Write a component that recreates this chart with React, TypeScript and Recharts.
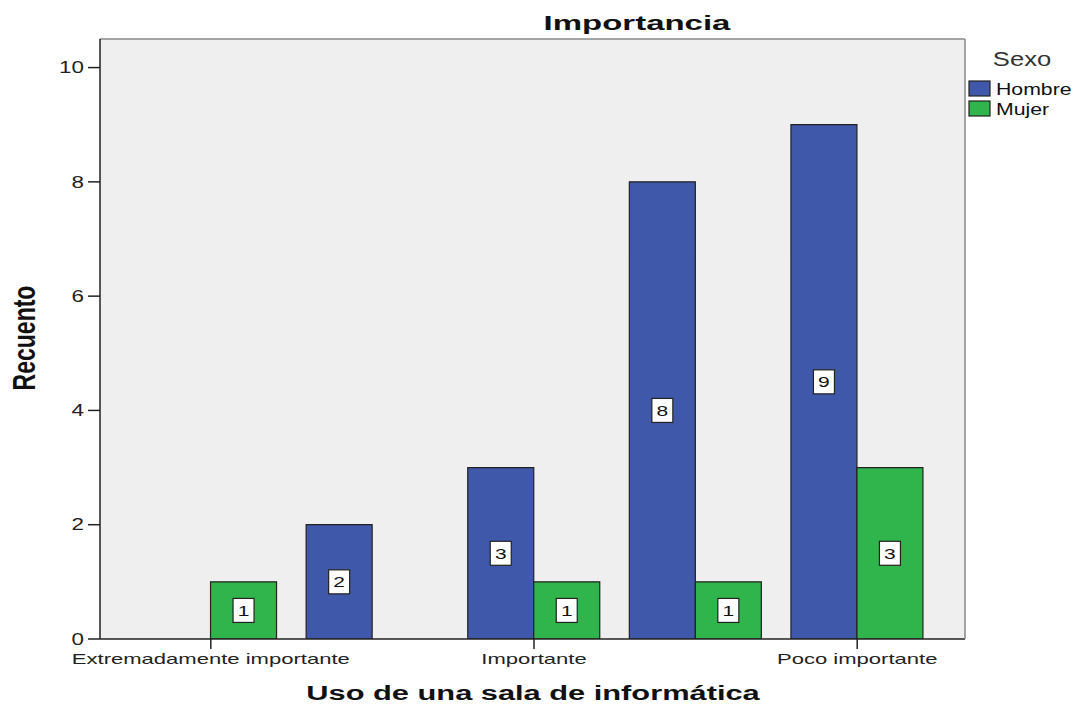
import { BarChart, Bar, XAxis, YAxis, CartesianGrid, LabelList } from "recharts";

const categories = [
  "Extremadamente importante",
  "Muy importante",
  "Importante",
  "Moderadamente importante",
  "Poco importante",
];
const hombre = [0, 2, 3, 8, 9];
const mujer = [1, 0, 1, 1, 3];
const yTicks = [0, 2, 4, 6, 8, 10];

const series = [
  { key: "Hombre", color: "#3f58aa" },
  { key: "Mujer", color: "#2fb54b" },
];

const data = categories.map((cat, i) => ({ cat, Hombre: hombre[i], Mujer: mujer[i] }));

const FONT = "'Liberation Sans', Arial, sans-serif";
const W = 1075;
const H = 705;

const XTick = (props: any) => {
  const { x, y, payload } = props;
  return (
    <g transform={`translate(${x},${y})`}>
      <text transform="scale(1.47,1)" textAnchor="middle" dy="0.71em" fontSize={15} fontFamily={FONT} fill="#222">
        {payload.value}
      </text>
    </g>
  );
};

const YTick = (props: any) => {
  const { x, y, payload } = props;
  return (
    <g transform={`translate(${x},${y})`}>
      <text transform="scale(1.4,1)" textAnchor="end" dy="0.36em" fontSize={16} fontFamily={FONT} fill="#222">
        {payload.value}
      </text>
    </g>
  );
};

const BoxLabel = (props: any) => {
  const vb = props.viewBox ?? props;
  const x = vb.x ?? props.x;
  const y = vb.y ?? props.y;
  const width = vb.width ?? props.width;
  const height = vb.height ?? props.height;
  const { value } = props;
  if (!value) return null;
  const cx = x + width / 2;
  const cy = y + height / 2;
  return (
    <g>
      <rect x={cx - 10.5} y={cy - 12} width={21} height={24} fill="#fff" stroke="#222" strokeWidth={1.2} />
      <text transform={`translate(${cx},${cy}) scale(1.4,1)`} textAnchor="middle" dy="0.36em" fontSize={15} fontFamily={FONT} fill="#111">
        {value}
      </text>
    </g>
  );
};

export default function App() {
  return (
    <div style={{ position: "absolute", left: 0, top: 0, width: W, height: H, background: "#fff" }}>
      <BarChart
        width={W}
        height={H}
        data={data}
        margin={{ top: 38, right: 109, bottom: 26, left: 40 }}
        barCategoryGap="9%"
        barGap={0}
      >
        <CartesianGrid fill="#efefef" horizontal={false} vertical={false} />
        <XAxis
          dataKey="cat"
          interval={1}
          height={40}
          padding={{ left: 30, right: 27 }}
          tickSize={10}
          tickMargin={4}
          tick={<XTick />}
          tickLine={{ stroke: "#222", strokeWidth: 1.5 }}
          axisLine={{ stroke: "#222", strokeWidth: 1.5 }}
        />
        <XAxis
          xAxisId="top"
          dataKey="cat"
          orientation="top"
          height={1}
          tick={false}
          tickLine={false}
          axisLine={{ stroke: "#888", strokeWidth: 1.5 }}
        />
        <YAxis
          width={60}
          domain={[0, 10.5]}
          ticks={yTicks}
          allowDataOverflow
          tickSize={12}
          tickMargin={4}
          tick={<YTick />}
          tickLine={{ stroke: "#222", strokeWidth: 1.5 }}
          axisLine={{ stroke: "#222", strokeWidth: 1.5 }}
        />
        <YAxis
          yAxisId="right"
          orientation="right"
          width={1}
          domain={[0, 10.5]}
          tick={false}
          tickLine={false}
          axisLine={{ stroke: "#888", strokeWidth: 1.5 }}
        />
        {series.map((s) => (
          <Bar key={s.key} dataKey={s.key} fill={s.color} stroke="#222" strokeWidth={1.2} isAnimationActive={false}>
            <LabelList dataKey={s.key} content={<BoxLabel />} />
          </Bar>
        ))}
      </BarChart>
      <svg width={W} height={H} style={{ position: "absolute", left: 0, top: 0, pointerEvents: "none" }}>
        <text transform="translate(637,30) scale(1.65,1)" textAnchor="middle" fontSize={20} fontWeight="bold" fontFamily={FONT} fill="#111">
          Importancia
        </text>
        <text transform="translate(533,700) scale(1.54,1)" textAnchor="middle" fontSize={20} fontWeight="bold" fontFamily={FONT} fill="#111">
          Uso de una sala de informática
        </text>
        <text transform="translate(35,338) scale(1.4,1) rotate(-90)" textAnchor="middle" fontSize={23} fontWeight="bold" fontFamily={FONT} fill="#111">
          Recuento
        </text>
        <text transform="translate(1022,66) scale(1.28,1)" textAnchor="middle" fontSize={20} fontFamily={FONT} fill="#333">
          Sexo
        </text>
        {series.map((s, i) => (
          <g key={s.key}>
            <rect x={969} y={81 + i * 20} width={21} height={15} fill={s.color} stroke="#222" strokeWidth={1.2} />
            <text transform={`translate(996,${95 + i * 20}) scale(1.25,1)`} fontSize={17} fontFamily={FONT} fill="#111">
              {s.key}
            </text>
          </g>
        ))}
      </svg>
    </div>
  );
}
